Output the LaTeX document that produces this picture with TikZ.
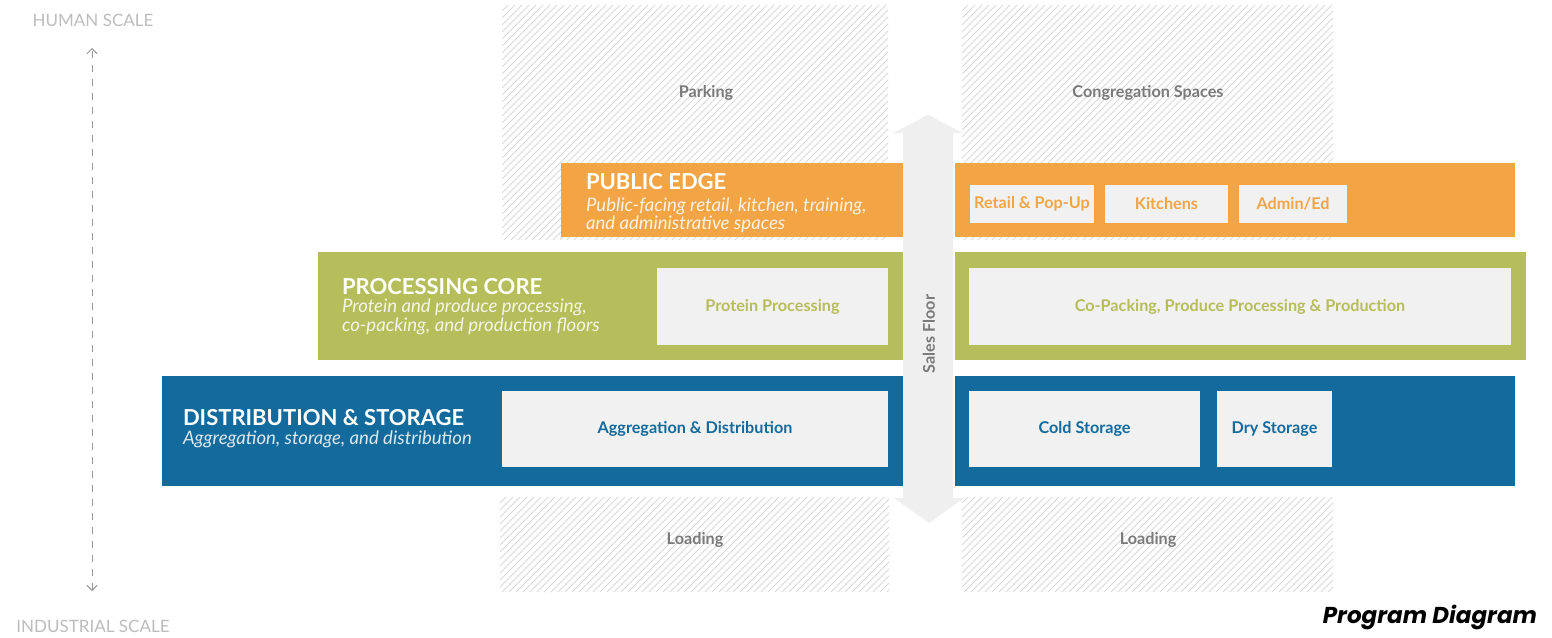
\documentclass[tikz,border=0pt]{standalone}
\usepackage{fontspec}
\setmainfont{Lato}
\newfontfamily\titlefont{Poppins}
\usetikzlibrary{arrows.meta}
\definecolor{peC}{HTML}{F3A546}
\definecolor{pcC}{HTML}{B6BD5B}
\definecolor{dsC}{HTML}{136A9C}
\definecolor{boxC}{HTML}{F1F1F1}
\definecolor{hatchC}{HTML}{DADADA}
\definecolor{greyT}{HTML}{7A7A7A}
\definecolor{scaleT}{HTML}{BDBDBD}
\definecolor{arrowC}{HTML}{EFEFEF}
\begin{document}
\begin{tikzpicture}[x=1pt,y=-1pt,
  every node/.style={inner sep=0pt, outer sep=0pt},
  zone/.style={anchor=north west, path picture={
     \foreach \k in {-250,-243,...,400}
       \draw[hatchC, line width=1pt] ([xshift=\k pt]path picture bounding box.south west) -- ++(300pt,300pt);}},
  band/.style={anchor=north west},
  inbox/.style={anchor=north west, fill=boxC, font=\bfseries\fontsize{16.2}{19}\selectfont},
  zonelabel/.style={text=greyT, font=\bfseries\fontsize{16.2}{19}\selectfont},
  btitle/.style={anchor=base west, text=white, font=\bfseries\fontsize{22}{26}\selectfont},
  bsub/.style={anchor=base west, text=white, text opacity=0.85, font=\itshape\fontsize{18.6}{22}\selectfont},
  scalelabel/.style={text=scaleT, font=\fontsize{17}{20}\selectfont, anchor=base}
]
\useasboundingbox[fill=white] (0,0) rectangle (1552,637);

% hatched zones
\node[zone, minimum width=386, minimum height=235] (hz1) at (502,5) {};
\node[zone, minimum width=371, minimum height=235] (hz2) at (962,5) {};
\node[zone, minimum width=389, minimum height=95] (hz3) at (500,497) {};
\node[zone, minimum width=371, minimum height=95] (hz4) at (962,497) {};
\node[zonelabel] (park) at (706,93) {Parking};
\node[zonelabel] (cong) at (1148,93) {Congregation Spaces};
\node[zonelabel] (load1) at (695,540) {Loading};
\node[zonelabel] (load2) at (1148,540) {Loading};

% bands
\node[band, fill=peC, minimum width=342, minimum height=74] (pel) at (561,163) {};
\node[band, fill=peC, minimum width=560, minimum height=74] (per) at (955,163) {};
\node[band, fill=pcC, minimum width=585, minimum height=108] (pcl) at (318,252) {};
\node[band, fill=pcC, minimum width=571, minimum height=108] (pcr) at (955,252) {};
\node[band, fill=dsC, minimum width=741, minimum height=110] (dsl) at (162,376) {};
\node[band, fill=dsC, minimum width=560, minimum height=110] (dsr) at (955,376) {};

% band titles
\node[btitle] (pet) at (586,189) {PUBLIC EDGE};
\node[bsub] (pes1) at (586,211) {Public-facing retail, kitchen, training,};
\node[bsub] (pes2) at (586,229) {and administrative spaces};
\node[btitle] (pct) at (342,294) {PROCESSING CORE};
\node[bsub] (pcs1) at (342,312) {Protein and produce processing,};
\node[bsub] (pcs2) at (342,331) {co-packing, and production floors};
\node[btitle] (dst) at (183,425) {DISTRIBUTION \& STORAGE};
\node[bsub] (dss1) at (183,444) {Aggregation, storage, and distribution};

% inner boxes
\node[inbox, text=peC, minimum width=124, minimum height=38] (retail) at (970,185) {Retail \& Pop-Up};
\node[inbox, text=peC, minimum width=123, minimum height=38] (kitch) at (1105,185) {Kitchens};
\node[inbox, text=peC, minimum width=108, minimum height=38] (admin) at (1239,185) {Admin/Ed};
\node[inbox, text=pcC, minimum width=231, minimum height=77] (prot) at (657,268) {Protein Processing};
\node[inbox, text=pcC, minimum width=542, minimum height=77] (copack) at (969,268) {Co-Packing, Produce Processing \& Production};
\node[inbox, text=dsC, minimum width=386, minimum height=76] (aggr) at (502,391) {Aggregation \& Distribution};
\node[inbox, text=dsC, minimum width=231, minimum height=76] (cold) at (969,391) {Cold Storage};
\node[inbox, text=dsC, minimum width=115, minimum height=76] (dry) at (1217,391) {Dry Storage};

% sales floor arrow
\fill[arrowC] (928,115) -- (963,133) -- (953,133) -- (953,498) -- (964,498) -- (929,523)
  -- (894,498) -- (903,498) -- (903,133) -- (893,133) -- cycle;
\node[rotate=90, text=greyT, font=\bfseries\fontsize{16.2}{19}\selectfont] (sales) at (929,334) {Sales Floor};

% scale axis
\coordinate (top) at (92,48);
\coordinate (bot) at (92,591);
\draw[greyT!80, line width=1pt, dash pattern=on 7pt off 7pt,
  {Straight Barb[length=5pt,width=10pt]}-{Straight Barb[length=5pt,width=10pt]}] (bot) -- (top);
\node[scalelabel] (human) at (93,26) {HUMAN SCALE};
\node[scalelabel] (indus) at (93,632) {INDUSTRIAL SCALE};

\node[anchor=base east, font=\titlefont\bfseries\itshape\fontsize{23}{28}\selectfont] (title) at (1537,623) {Program Diagram};
\end{tikzpicture}
\end{document}
